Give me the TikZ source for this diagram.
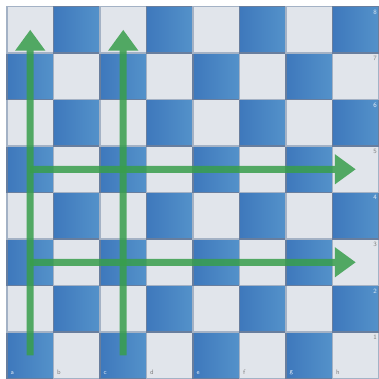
\documentclass[tikz,border=0pt]{standalone}
\usepackage{tikz}
\usetikzlibrary{arrows.meta,positioning}
\definecolor{sqdark}{RGB}{62,120,188}
\definecolor{sqdarkhi}{RGB}{84,146,202}
\definecolor{sqlight}{RGB}{225,229,235}
\definecolor{sqedge}{RGB}{104,126,158}
\definecolor{mvgreen}{RGB}{56,158,76}

\begin{document}
\begin{tikzpicture}[x=1cm,y=1cm,
    darksq/.style={draw=sqedge,line width=0.8pt,left color=sqdark,right color=sqdarkhi},
    lightsq/.style={draw=sqedge!60,line width=0.8pt,fill=sqlight},
    move/.style={mvgreen,line width=0.15cm,-{Triangle[length=0.45cm,width=0.62cm]}},
    coordlbl/.style={font=\sffamily\fontsize{4}{4}\selectfont,inner sep=0pt}]
  \useasboundingbox (-0.15,0) rectangle (8,8.14);
  % Board squares
  \foreach \x in {0,...,7}{
    \foreach \y in {0,...,7}{
      \pgfmathtruncatemacro{\sqpar}{mod(\x+\y,2)}
      \ifodd\sqpar
        \draw[lightsq] (\x,\y) rectangle ++(1,1);
      \else
        \draw[darksq] (\x,\y) rectangle ++(1,1);
      \fi
    }
  }
  % Square centres
  \foreach \f [count=\i from 0] in {a,b,c,d,e,f,g,h}{
    \foreach \r in {1,...,8}{
      \coordinate (\f\r) at (\i+0.5,\r-0.5);
    }
  }
  % File letters
  \foreach \f [count=\i from 0] in {a,b,c,d,e,f,g,h}{
    \ifodd\i
      \node[coordlbl,text=gray,anchor=south west] (file-\f) at (\i+0.07,0.07) {\f};
    \else
      \node[coordlbl,text=white!85!sqdark,anchor=south west] (file-\f) at (\i+0.07,0.07) {\f};
    \fi
  }
  % Rank numbers
  \foreach \r in {1,...,8}{
    \ifodd\r
      \node[coordlbl,text=gray,anchor=north east] (rank-\r) at (7.96,\r-0.06) {\r};
    \else
      \node[coordlbl,text=white!85!sqdark,anchor=north east] (rank-\r) at (7.96,\r-0.06) {\r};
    \fi
  }
  % Rook moves
  \foreach \from/\to in {a1/a8, c1/c8, a5/h5, a3/h3}{
    \begin{scope}[transparency group,opacity=0.85]
      \draw[move] (\from) -- (\to);
    \end{scope}
  }
\end{tikzpicture}
\end{document}
